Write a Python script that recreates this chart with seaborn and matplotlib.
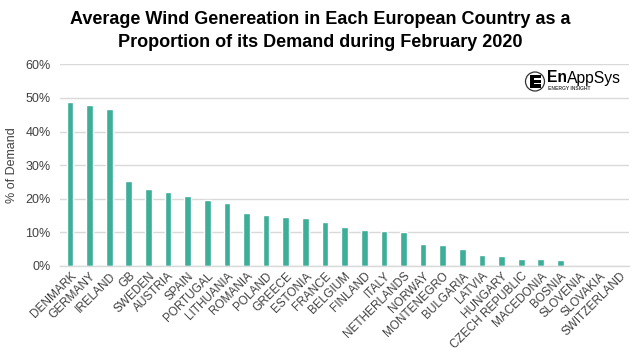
import matplotlib
matplotlib.use("Agg")
import matplotlib.pyplot as plt
import seaborn as sns
import pandas as pd
from matplotlib.patches import Circle, Rectangle
from matplotlib.ticker import PercentFormatter

countries = ["DENMARK", "GERMANY", "IRELAND", "GB", "SWEDEN", "AUSTRIA", "SPAIN",
             "PORTUGAL", "LITHUANIA", "ROMANIA", "POLAND", "GREECE", "ESTONIA",
             "FRANCE", "BELGIUM", "FINLAND", "ITALY", "NETHERLANDS", "NORWAY",
             "MONTENEGRO", "BULGARIA", "LATVIA", "HUNGARY", "CZECH REPUBLIC",
             "MACEDONIA", "BOSNIA", "SLOVENIA", "SLOVAKIA", "SWITZERLAND"]
share = [48.7, 47.9, 46.8, 25.4, 22.9, 21.9, 20.7, 19.5, 18.8, 15.7, 15.1, 14.6,
         14.3, 13.1, 11.7, 10.8, 10.3, 10.0, 6.4, 6.2, 5.1, 3.2, 2.8, 1.9, 1.9,
         1.6, 0.0, 0.0, 0.0]
y_ticks = [0, 10, 20, 30, 40, 50, 60]

df = pd.DataFrame({"country": countries, "share": share})

sns.set_theme(style="white")
plt.rcParams["font.family"] = ["Liberation Sans", "DejaVu Sans"]

fig = plt.figure(figsize=(6.4, 3.54), dpi=100)
ax = fig.add_axes([0.094, 0.249, 0.889, 0.569])

sns.barplot(data=df, x="country", y="share", color="#3DAE98", saturation=1,
            width=0.34, ax=ax)

ax.set_ylim(0, 60)
ax.set_yticks(y_ticks)
ax.yaxis.set_major_formatter(PercentFormatter(decimals=0))
ax.grid(axis="y", color="#D9D9D9", linewidth=1)
ax.set_axisbelow(True)
for s in ["top", "right", "left"]:
    ax.spines[s].set_visible(False)
ax.spines["bottom"].set_color("#D9D9D9")
ax.spines["bottom"].set_linewidth(1)
ax.tick_params(axis="y", length=0, labelsize=9, colors="#404040", pad=7)
ax.tick_params(axis="x", length=0, labelsize=8.5, colors="#404040", pad=3)
plt.setp(ax.get_xticklabels(), rotation=45, ha="right", rotation_mode="anchor")
ax.set_xlabel("")
ax.set_ylabel("")
ax.set_xlim(-0.5, len(countries) - 0.5)
fig.text(12 / 640, 1 - 165 / 354, "% of Demand", rotation=90, ha="center", va="center",
         fontsize=9, color="#404040")

fig.text(0.5, 1 - 31 / 354, "Average Wind Genereation in Each European Country as a\nProportion of its Demand during February 2020",
         ha="center", va="center", fontsize=13, fontweight="bold", color="black",
         linespacing=1.4)

# logo (axes in pixel-like units)
lax = fig.add_axes([520 / 640, 1 - 94 / 354, 105 / 640, 26 / 354])
lax.set_xlim(0, 105)
lax.set_ylim(0, 26)
lax.axis("off")
lax.add_patch(Circle((15, 12.5), 9.5, fill=False, ec="#333333", lw=0.9))
for yy in (6.5, 11.2, 15.9):
    lax.add_patch(Rectangle((9.5, yy), 11, 3.3, color="black", lw=0))
lax.add_patch(Rectangle((9.5, 6.5), 4, 12.7, color="black", lw=0))
t1 = lax.text(27, 16, "En", fontsize=11.3, fontweight="bold", color="black", va="center", ha="left")
fig.canvas.draw()
bb = t1.get_window_extent()
x_end = lax.transData.inverted().transform((bb.x1, bb.y0))[0]
lax.text(x_end, 16, "AppSys", fontsize=11.3, color="black", va="center", ha="left")
lax.text(28, 6, "ENERGY INSIGHT", fontsize=3.6, fontweight="bold", color="#444444", va="center", ha="left")

fig.savefig("out.png", dpi=100)
